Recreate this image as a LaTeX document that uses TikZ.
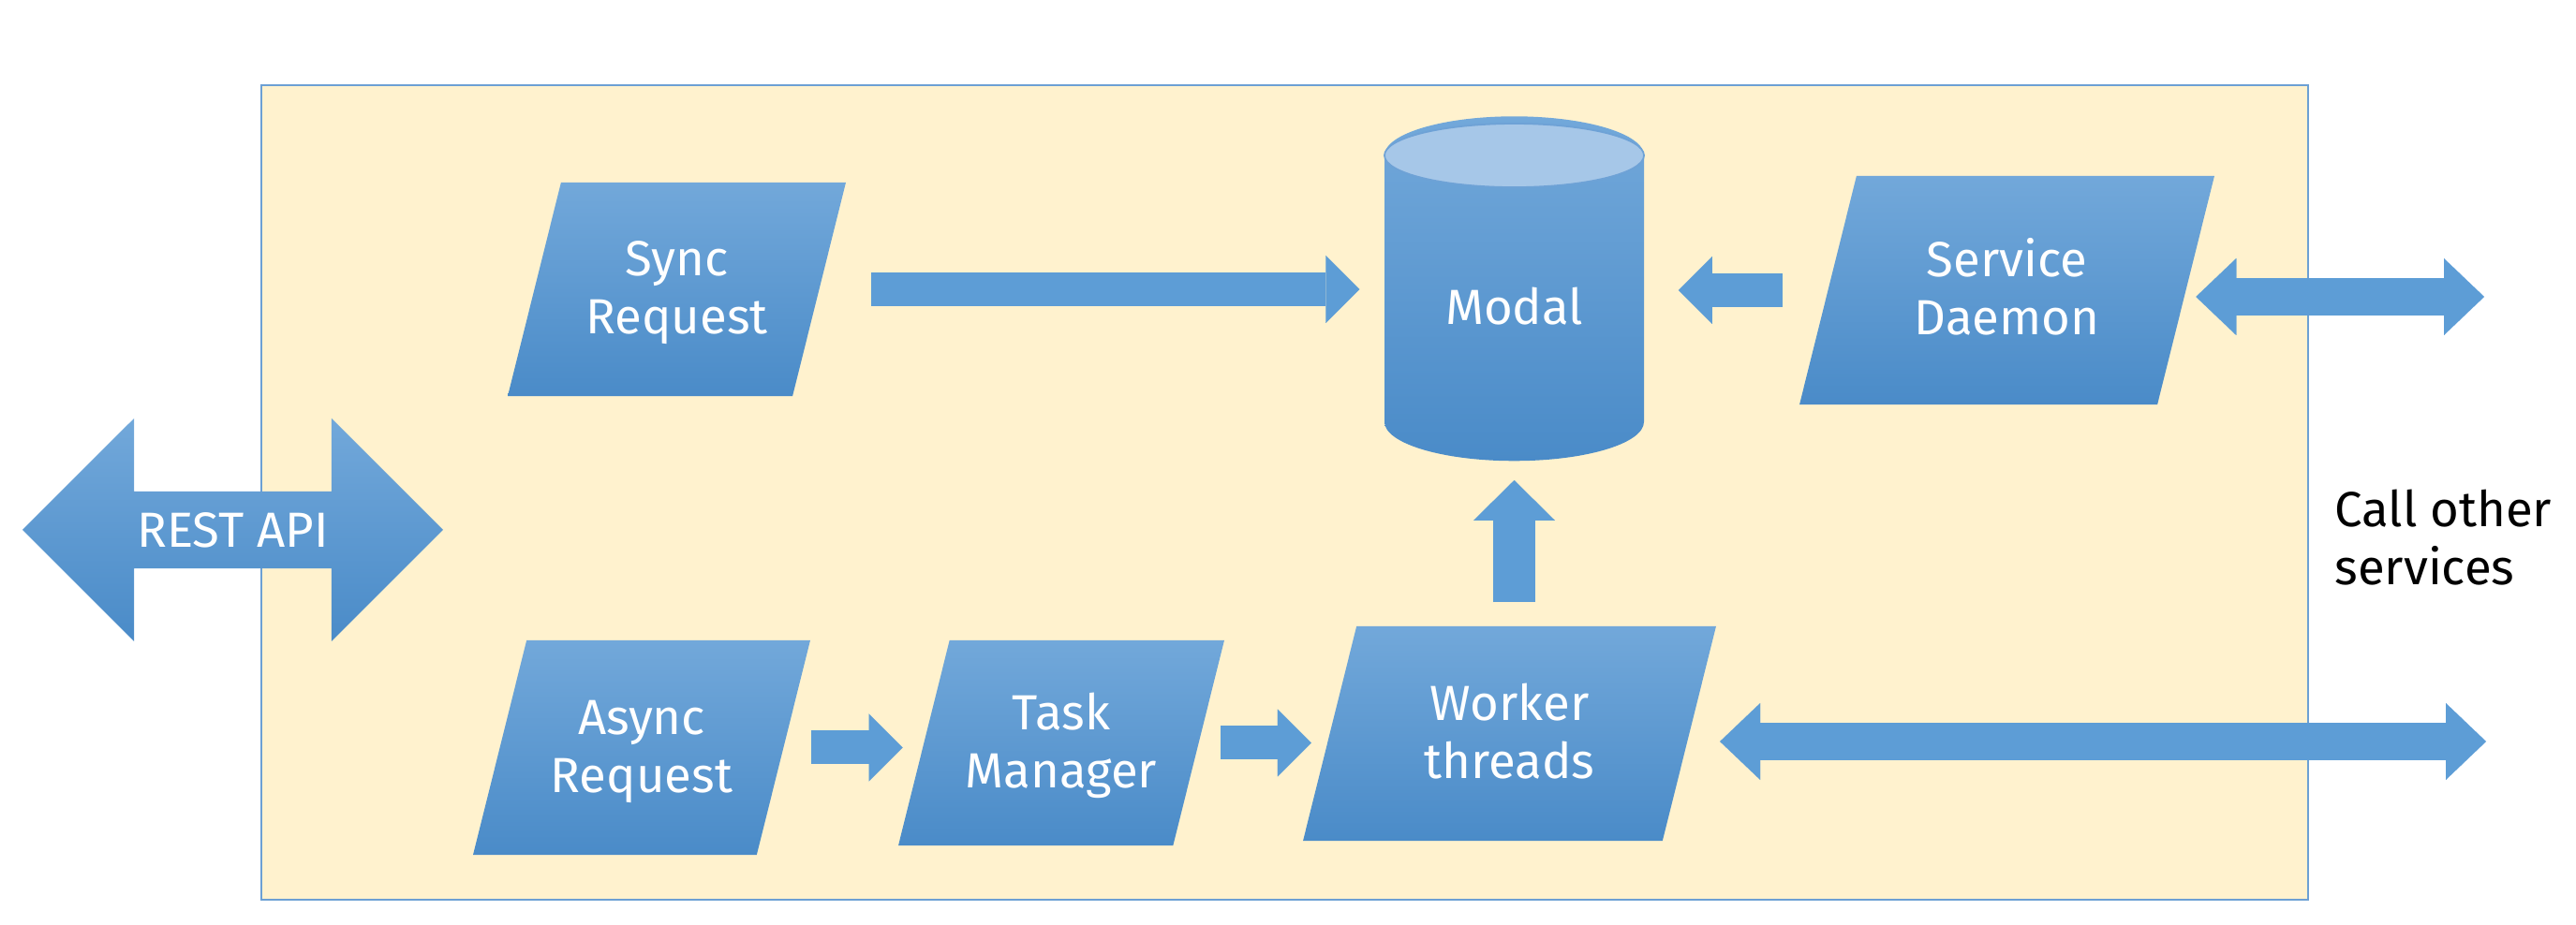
\documentclass[tikz,border=0pt]{standalone}
\usepackage{fontspec}
\setmainfont{Fira Sans}
\usetikzlibrary{shapes.geometric,shapes.arrows,arrows.meta,positioning,calc}

\definecolor{boxtop}{RGB}{114,168,218}
\definecolor{boxbot}{RGB}{74,139,200}
\definecolor{arrowblue}{RGB}{93,157,214}
\definecolor{capfill}{RGB}{166,199,232}
\definecolor{capline}{RGB}{110,162,214}
\definecolor{panelfill}{RGB}{255,242,206}
\definecolor{panelline}{RGB}{108,160,212}

\begin{document}
\begin{tikzpicture}[
    every node/.style={font=\fontsize{15}{17.6}\selectfont},
    para/.style={trapezium, trapezium left angle=76, trapezium right angle=104,
                 trapezium stretches body, top color=boxtop, bottom color=boxbot,
                 text=white, align=center, text height=29.6pt, text depth=2.4pt,
                 inner xsep=2pt, inner ysep={(#1-1.12cm)/2}, minimum height=#1},
    store/.style={cylinder, shape border rotate=90, aspect=0.49,
                  top color=boxtop, bottom color=boxbot, text=white},
    gate/.style={double arrow, double arrow head extend=0.59cm,
                 top color=boxtop, bottom color=boxbot, text=white},
    flow/.style={draw=arrowblue, line width=0.36cm,
                 -{Triangle[length=0.36cm, width=0.72cm, line width=0.01pt]}},
    duplex/.style={draw=arrowblue, line width=0.40cm,
                   {Triangle[length=0.43cm, width=0.82cm, line width=0.01pt]}-{Triangle[length=0.43cm, width=0.82cm, line width=0.01pt]}},
    panel/.style={fill=panelfill, draw=panelline, line width=0.6pt}
]
\useasboundingbox (0,0) rectangle (27.5,-9.88);

% --- service boundary ---
\draw[panel] (2.79,-0.91) rectangle (24.64,-9.61);

% --- Row 1: sync path ---
\node[para=2.28cm, minimum width=3.61cm] (sync) at (7.225,-3.09) {Sync\\Request};
\node[store, minimum width=2.77cm, minimum height=3.68cm, text height=11.5pt, text depth=6.6pt,
      anchor=south] (modal) at (16.165,-4.93) {Modal};
\node[para=2.44cm, minimum width=4.43cm] (daemon) at (21.425,-3.10) {Service\\Daemon};
\filldraw[fill=capfill, draw=capline, line width=0.5pt]
    ($(modal.before top)!0.5!(modal.after top)$) ellipse [x radius=1.385cm, y radius=0.34cm];

% --- Row 2: async path ---
\node[para=2.29cm, minimum width=3.60cm] (async) at (6.85,-7.985) {Async\\Request};
\node[para=2.19cm, minimum width=3.48cm] (task) at (11.33,-7.935) {Task\\Manager};
\node[para=2.29cm, minimum width=4.41cm] (worker) at (16.115,-7.835) {Worker\\threads};

% --- outside ---
\node[gate, minimum height=4.49cm, minimum width=2.38cm] (rest) at (2.485,-5.66) {REST API};
\node[anchor=west, align=left] (callnote) at (24.80,-5.74) {Call other\\services};
\coordinate (svcout) at (26.52,-3.17);
\coordinate (wkout) at (26.54,-7.92);

% arrows
\draw[flow, shorten <=0.55cm, shorten >=0.26cm] (sync.east) -- (sync.east -| modal.west);
\draw[flow, shorten <=0.48cm, shorten >=0.36cm] (daemon.west) -- (daemon.west -| modal.east);
\draw[flow, line width=0.45cm, -{Triangle[length=0.43cm, width=0.87cm, line width=0.01pt]},
      shorten <=0.25cm, shorten >=0.20cm] (modal.south |- worker.north) -- (modal.south);
\draw[flow, shorten <=0.29cm, shorten >=0.22cm] (async.east) -- (async.east -| task.west);
\draw[flow, shorten <=0.23cm, shorten >=0.19cm] (task.east) -- (task.east -| worker.west);
\draw[duplex, shorten <=0.10cm] (daemon.east |- svcout) -- (svcout);
\draw[duplex, shorten <=0.32cm] (worker.east |- wkout) -- (wkout);

\end{tikzpicture}
\end{document}
